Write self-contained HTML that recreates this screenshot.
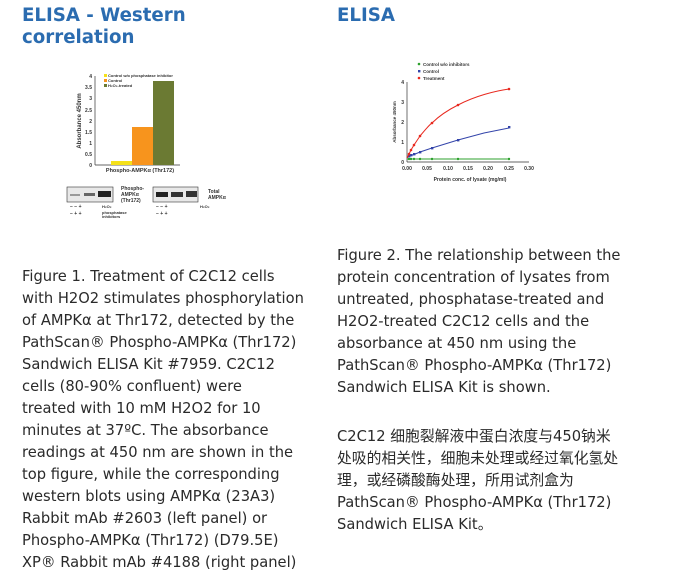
<!DOCTYPE html>
<html><head><meta charset="utf-8"><style>
body{margin:0;width:675px;height:579px;background:#fff;position:relative;overflow:hidden;font-family:"DejaVu Sans","Liberation Sans","Noto Sans CJK SC",sans-serif}
.h{position:absolute;color:#2b6cb0;font-weight:bold;font-size:18.2px;line-height:22px;white-space:nowrap}
.p{position:absolute;color:#2a2a2a;font-size:14.7px;line-height:22px;white-space:nowrap}
.cn{font-size:14.8px}
svg{position:absolute;left:0;top:0}
</style></head><body>
<div class="h" style="left:22px;top:5px">ELISA - Western<br>correlation</div>
<div class="h" style="left:337px;top:5px">ELISA</div>
<div class="p" style="left:22px;top:266px">Figure 1. Treatment of C2C12 cells<br>with H2O2 stimulates phosphorylation<br>of AMPKα at Thr172, detected by the<br>PathScan® Phospho-AMPKα (Thr172)<br>Sandwich ELISA Kit #7959. C2C12<br>cells (80-90% confluent) were<br>treated with 10 mM H2O2 for 10<br>minutes at 37ºC. The absorbance<br>readings at 450 nm are shown in the<br>top figure, while the corresponding<br>western blots using AMPKα (23A3)<br>Rabbit mAb #2603 (left panel) or<br>Phospho-AMPKα (Thr172) (D79.5E)<br>XP® Rabbit mAb #4188 (right panel)</div>
<div class="p" style="left:337px;top:245px">Figure 2. The relationship between the<br>protein concentration of lysates from<br>untreated, phosphatase-treated and<br>H2O2-treated C2C12 cells and the<br>absorbance at 450 nm using the<br>PathScan® Phospho-AMPKα (Thr172)<br>Sandwich ELISA Kit is shown.</div>
<div class="p" style="left:337px;top:426px">C2C12 <span class="cn">细胞裂解液中蛋白浓度与</span>450<span class="cn">钠米</span><br><span class="cn">处吸的相关性，细胞未处理或经过氧化氢处</span><br><span class="cn">理，或经磷酸酶处理，所用试剂盒为</span><br>PathScan® Phospho-AMPKα (Thr172)<br>Sandwich ELISA Kit<span class="cn">。</span></div>
<svg width="675" height="579" font-family="Liberation Sans,sans-serif" font-weight="bold">
<g font-size="5" fill="#333">
<line x1="95" y1="76" x2="95" y2="165" stroke="#333" stroke-width="0.7"/>
<line x1="95" y1="165" x2="180" y2="165" stroke="#333" stroke-width="0.7"/>
<text x="92" y="167" text-anchor="end">0</text><text x="92" y="156" text-anchor="end">0.5</text>
<text x="92" y="145" text-anchor="end">1</text><text x="92" y="134" text-anchor="end">1.5</text>
<text x="92" y="123" text-anchor="end">2</text><text x="92" y="112" text-anchor="end">2.5</text>
<text x="92" y="100" text-anchor="end">3</text><text x="92" y="89" text-anchor="end">3.5</text>
<text x="92" y="78" text-anchor="end">4</text>
<text transform="translate(81,121) rotate(-90)" text-anchor="middle" font-size="6">Absorbance 450nm</text>
<rect x="111" y="161" width="21" height="4" fill="#f5e11a"/>
<rect x="132" y="127" width="21" height="38" fill="#f7941d"/>
<rect x="153" y="81" width="21" height="84" fill="#6b7a33"/>
<rect x="104" y="74" width="3" height="3" fill="#f5e11a"/><text x="108" y="77" font-size="4">Control w/o phosphatase inhibitor</text>
<rect x="104" y="79" width="3" height="3" fill="#f7941d"/><text x="108" y="82" font-size="4">Control</text>
<rect x="104" y="84" width="3" height="3" fill="#6b7a33"/><text x="108" y="87" font-size="4">H₂O₂-treated</text>
<text x="140" y="172" text-anchor="middle" font-size="5.5">Phospho-AMPKα (Thr172)</text>
<rect x="67" y="187" width="46" height="15" fill="#e8e8e8" stroke="#333" stroke-width="0.6"/>
<rect x="70" y="194" width="10" height="2" fill="#999"/><rect x="84" y="193" width="11" height="3" fill="#666"/><rect x="98" y="191" width="13" height="6" fill="#222"/>
<text x="121" y="190" font-size="5">Phospho-</text><text x="121" y="196" font-size="5">AMPKα</text><text x="121" y="202" font-size="5">(Thr172)</text>
<rect x="153" y="187" width="45" height="15" fill="#e8e8e8" stroke="#333" stroke-width="0.6"/>
<rect x="156" y="192" width="12" height="5" fill="#222"/><rect x="171" y="192" width="12" height="5" fill="#333"/><rect x="186" y="191" width="11" height="6" fill="#333"/>
<text x="208" y="193" font-size="5">Total</text><text x="208" y="199" font-size="5">AMPKα</text>
<text x="70" y="208" font-size="5">−   −   +</text><text x="70" y="215" font-size="5">−   +   +</text>
<text x="102" y="208" font-size="4">H₂O₂</text><text x="102" y="214" font-size="4">phosphatase</text><text x="102" y="218" font-size="4">inhibitors</text>
<text x="156" y="208" font-size="5">−   −   +</text><text x="156" y="215" font-size="5">−   +   +</text>
<text x="200" y="208" font-size="4">H₂O₂</text>
</g>
<g font-size="5" fill="#333">
<line x1="407" y1="82" x2="407" y2="162" stroke="#333" stroke-width="0.7"/>
<line x1="407" y1="162" x2="529" y2="162" stroke="#333" stroke-width="0.7"/>
<text x="404" y="164" text-anchor="end">0</text><text x="404" y="144" text-anchor="end">1</text>
<text x="404" y="124" text-anchor="end">2</text><text x="404" y="104" text-anchor="end">3</text>
<text x="404" y="84" text-anchor="end">4</text>
<text x="407" y="170" text-anchor="middle">0.00</text><text x="427" y="170" text-anchor="middle">0.05</text>
<text x="448" y="170" text-anchor="middle">0.10</text><text x="468" y="170" text-anchor="middle">0.15</text>
<text x="488" y="170" text-anchor="middle">0.20</text><text x="509" y="170" text-anchor="middle">0.25</text>
<text x="529" y="170" text-anchor="middle">0.30</text>
<text transform="translate(396,122) rotate(-90)" text-anchor="middle" font-size="4.5">Absorbance 450nm</text>
<text x="470" y="181" text-anchor="middle" font-size="5">Protein conc. of lysate (mg/ml)</text>
<polyline fill="none" stroke="#2ca02c" stroke-width="1" points="407,159 509,159"/>
<g fill="#2ca02c"><circle cx="409" cy="159" r="1.2"/><circle cx="411" cy="159" r="1.2"/><circle cx="414" cy="159" r="1.2"/><circle cx="420" cy="159" r="1.2"/><circle cx="432" cy="159" r="1.2"/><circle cx="458" cy="159" r="1.2"/><circle cx="509" cy="159" r="1.2"/></g>
<polyline fill="none" stroke="#3344aa" stroke-width="1" points="407,158 409,156 411,155.5 414,154.5 420,152 432,148 458,140 484,133 509,128"/>
<g fill="#3344aa"><rect x="408" y="155" width="2.4" height="2.4"/><rect x="410" y="154" width="2.4" height="2.4"/><rect x="413" y="153" width="2.4" height="2.4"/><rect x="419" y="151" width="2.4" height="2.4"/><rect x="431" y="147" width="2.4" height="2.4"/><rect x="457" y="139" width="2.4" height="2.4"/><rect x="508" y="126" width="2.4" height="2.4"/></g>
<path fill="none" stroke="#e8281e" stroke-width="1" d="M407,158 L409,154 L411,150 L414,145 L420,136 C425,130 430,124 432,123 C440,115 450,109 458,105 C475,96 495,91 509,89"/>
<g fill="#e8281e"><circle cx="409" cy="154" r="1.3"/><circle cx="411" cy="150" r="1.3"/><circle cx="414" cy="145" r="1.3"/><circle cx="420" cy="136" r="1.3"/><circle cx="432" cy="123" r="1.3"/><circle cx="458" cy="105" r="1.3"/><circle cx="509" cy="89" r="1.3"/></g>
<circle cx="419" cy="64" r="1.3" fill="#2ca02c"/><text x="423" y="66" font-size="4.5">Control w/o inhibitors</text>
<rect x="418" y="70" width="2.4" height="2.4" fill="#3344aa"/><text x="423" y="73" font-size="4.5">Control</text>
<circle cx="419" cy="78" r="1.3" fill="#e8281e"/><text x="423" y="80" font-size="4.5">Treatment</text>
</g>
</svg>
</body></html>
